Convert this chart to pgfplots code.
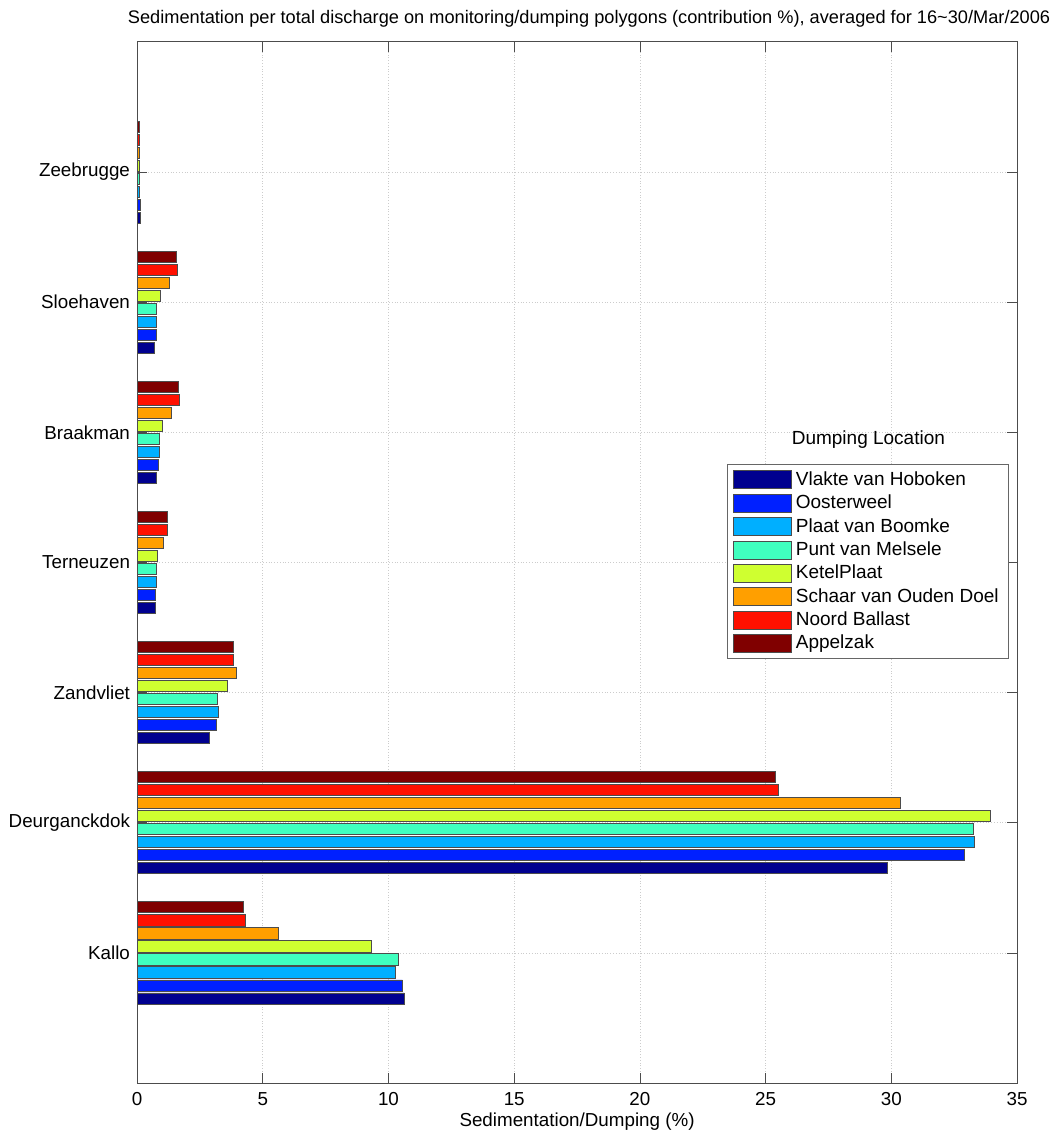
\documentclass[border=0pt]{standalone}
\usepackage{pgfplots}
\pgfplotsset{compat=1.18}
\usepackage{fontspec}
\setmainfont{Liberation Sans}
\definecolor{c1}{rgb}{0,0,0.5625}
\definecolor{c2}{rgb}{0,0.125,1}
\definecolor{c3}{rgb}{0,0.6875,1}
\definecolor{c4}{rgb}{0.25,1,0.75}
\definecolor{c5}{rgb}{0.8125,1,0.1875}
\definecolor{c6}{rgb}{1,0.625,0}
\definecolor{c7}{rgb}{1,0.0625,0}
\definecolor{c8}{rgb}{0.5,0,0}
\begin{document}
\begin{tikzpicture}
\begin{axis}[
  scale only axis,
  width=440pt, height=520.5pt,
  xmin=0, xmax=35, ymin=0, ymax=8,
  xtick={0,5,...,35},
  ytick={1,...,7},
  yticklabels={Kallo,Deurganckdok,Zandvliet,Terneuzen,Braakman,Sloehaven,Zeebrugge},
  xbar,
  bar width=0.085,
  tick align=inside,
  major tick length=5pt,
  tick style={black!70, line width=0.4pt},
  axis line style={black!70, line width=0.5pt},
  grid=major,
  major grid style={densely dotted, black!20, line width=0.4pt},
  /pgf/number format/assume math mode=true,
  tick label style={font=\fontsize{9.4pt}{11pt}\selectfont},
  xticklabel style={yshift=-1pt},
  xlabel={Sedimentation/Dumping (\%)},
  xlabel style={font=\fontsize{9.4pt}{11pt}\selectfont, yshift=3pt},
  title={Sedimentation per total discharge on monitoring/dumping polygons (contribution \%), averaged for 16\textasciitilde 30/Mar/2006},
  title style={font=\fontsize{9.1pt}{11pt}\selectfont, yshift=-2pt, xshift=6pt},
  legend cell align=left,
  legend style={at={(0.991,0.5946)}, anchor=north east, draw=black!60, line width=0.5pt,
    font=\fontsize{9.5pt}{11pt}\selectfont, row sep=0.3pt, inner xsep=3pt, inner ysep=2pt,
    nodes={inner ysep=1.5pt}},
  legend image code/.code={\draw[#1, bar width=0pt] (0pt,-4.5pt) rectangle (29pt,4.5pt);},
  every axis plot/.append style={draw=black!70, line width=0.4pt},
]
\addplot[fill=c1, bar shift=-0.35] coordinates {(10.63,1) (29.85,2) (2.86,3) (0.74,4) (0.77,5) (0.70,6) (0.13,7)};
\addplot[fill=c2, bar shift=-0.25] coordinates {(10.55,1) (32.91,2) (3.14,3) (0.75,4) (0.85,5) (0.79,6) (0.12,7)};
\addplot[fill=c3, bar shift=-0.15] coordinates {(10.28,1) (33.30,2) (3.24,3) (0.76,4) (0.88,5) (0.79,6) (0.11,7)};
\addplot[fill=c4, bar shift=-0.05] coordinates {(10.40,1) (33.27,2) (3.21,3) (0.76,4) (0.88,5) (0.79,6) (0.10,7)};
\addplot[fill=c5, bar shift=0.05] coordinates {(9.33,1) (33.93,2) (3.59,3) (0.81,4) (0.99,5) (0.94,6) (0.10,7)};
\addplot[fill=c6, bar shift=0.15] coordinates {(5.62,1) (30.35,2) (3.95,3) (1.05,4) (1.38,5) (1.30,6) (0.11,7)};
\addplot[fill=c7, bar shift=0.25] coordinates {(4.29,1) (25.49,2) (3.83,3) (1.21,4) (1.68,5) (1.60,6) (0.09,7)};
\addplot[fill=c8, bar shift=0.35] coordinates {(4.22,1) (25.37,2) (3.85,3) (1.20,4) (1.64,5) (1.56,6) (0.11,7)};
\legend{Vlakte van Hoboken,Oosterweel,Plaat van Boomke,Punt van Melsele,KetelPlaat,Schaar van Ouden Doel,Noord Ballast,Appelzak}
\node[font=\fontsize{9.5pt}{11pt}\selectfont] at (rel axis cs:0.831,0.618) {Dumping Location};
\coordinate (bl) at (rel axis cs:-0.1557,-0.0451);
\coordinate (tr) at (rel axis cs:1.0511,1.0403);
\end{axis}
\pgfresetboundingbox
\path[use as bounding box] (bl) rectangle (tr);
\end{tikzpicture}
\end{document}
